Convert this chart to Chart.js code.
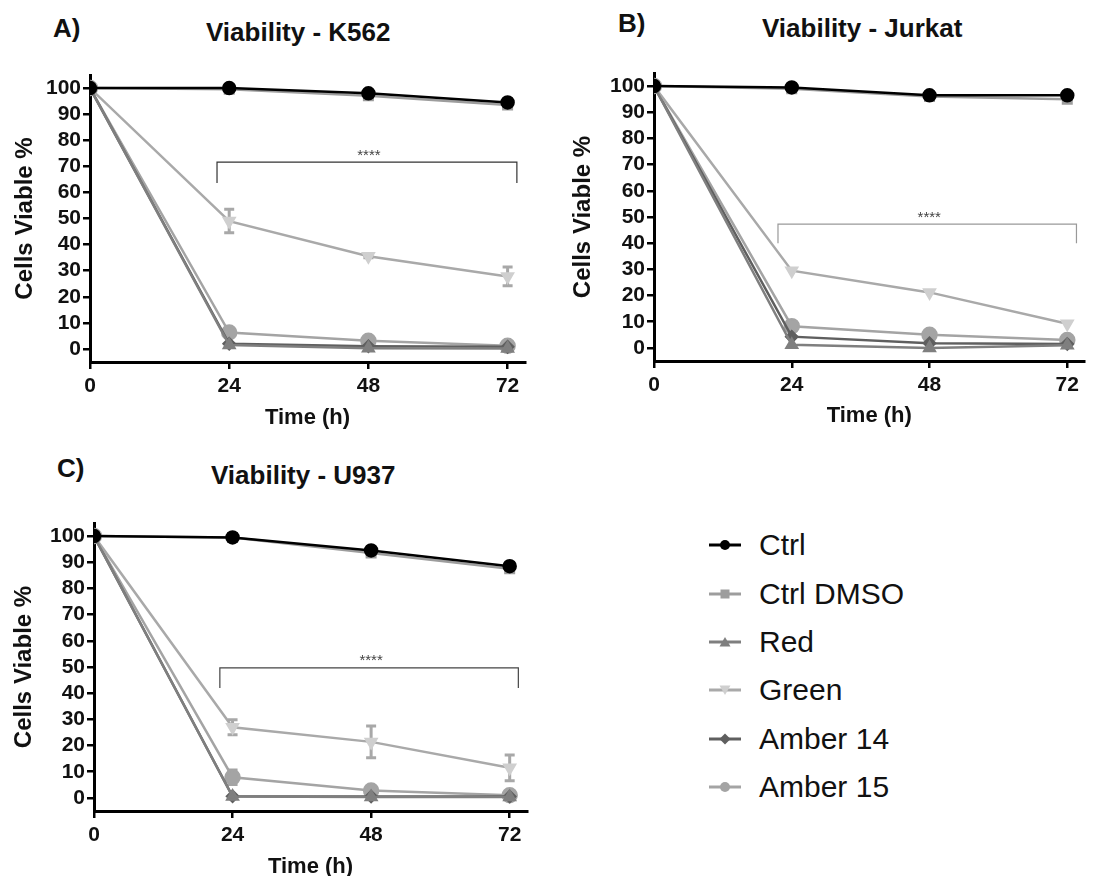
<!DOCTYPE html>
<html>
<head>
<meta charset="utf-8">
<script src="https://cdn.jsdelivr.net/npm/chart.js@4.4.0/dist/chart.umd.min.js"></script>
<style>
html, body { margin: 0; padding: 0; background: #fff; overflow: hidden; }
body { width: 1094px; height: 876px; position: relative; font-family: Arial, "Liberation Sans", sans-serif; }
canvas { position: absolute; }
.lbl { position: absolute; font-weight: bold; font-size: 26px; line-height: 30px; color: #111; white-space: nowrap; }
#legend { position: absolute; left: 709px; top: 521px; }
.row { height: 48.4px; display: flex; align-items: center; font-size: 30px; color: #111; white-space: nowrap; }
.row svg { margin-right: 18px; flex: none; }
</style>
</head>
<body>
<div class="lbl" style="left:53px;top:13px">A)</div>
<div class="lbl" style="left:206px;top:17px">Viability - K562</div>
<div class="lbl" style="left:618px;top:8px">B)</div>
<div class="lbl" style="left:762px;top:13px">Viability - Jurkat</div>
<div class="lbl" style="left:57px;top:453px">C)</div>
<div class="lbl" style="left:211px;top:460px">Viability - U937</div>

<canvas id="cK562" width="540" height="440" style="left:0;top:0"></canvas>
<canvas id="cJurkat" width="540" height="440" style="left:554px;top:0"></canvas>
<canvas id="cU937" width="540" height="446" style="left:0;top:430px"></canvas>
<div id="legend"></div>

<script>
// time points and ticks
const hours = [0, 24, 48, 72];
const xTicks = [0, 24, 48, 72];
const yTicks = [0, 10, 20, 30, 40, 50, 60, 70, 80, 90, 100];
const seriesNames = ['Ctrl', 'Ctrl DMSO', 'Red', 'Green', 'Amber 14', 'Amber 15'];

// K562
const k562Ctrl = [100, 100, 98, 94.5];
const k562Dmso = [100, 99.5, 97, 93.5];
const k562Red = [100, 1.5, 0.3, 0.2];
const k562Green = [100, 49, 35.5, 27.8];
const k562Amber14 = [100, 2, 1, 0.8];
const k562Amber15 = [100, 6.3, 3.1, 1.2];
const k562GreenErr = [0, 4.5, 0.5, 3.6];
const k562Amber15Err = [0, 0, 0, 0];

// Jurkat
const jurkatCtrl = [100, 99.5, 96.5, 96.5];
const jurkatDmso = [100, 99, 96, 95];
const jurkatRed = [100, 1.2, 0, 1];
const jurkatGreen = [100, 29.5, 21.2, 9.2];
const jurkatAmber14 = [100, 4.3, 1.8, 1.5];
const jurkatAmber15 = [100, 8.3, 5, 3];
const jurkatGreenErr = [0, 0, 0, 0];
const jurkatAmber15Err = [0, 0, 0, 0];

// U937
const u937Ctrl = [100, 99.5, 94.5, 88.5];
const u937Dmso = [100, 99.5, 93.5, 87.5];
const u937Red = [100, 0.5, 0.3, 0.3];
const u937Green = [100, 27, 21.4, 11.5];
const u937Amber14 = [100, 0.6, 0.5, 0.5];
const u937Amber15 = [100, 7.9, 2.8, 1];
const u937GreenErr = [0, 2.9, 6.1, 4.9];
const u937Amber15Err = [0, 2.8, 0, 0];

// significance brackets: [from h, to h, level %, drop %]
const k562Sig = [21.9, 73.6, 71.6, 8];
const jurkatSig = [21.6, 73.6, 47.3, 7.3];
const u937Sig = [21.8, 73.5, 49.7, 7.7];

const styles = [
    { line: '#000000', fill: '#000000', shape: 'circle', r: 6 },
    { line: '#9d9d9d', fill: '#9d9d9d', shape: 'rect', r: 6 },
    { line: '#7f7f7f', fill: '#7f7f7f', shape: 'triangle', r: 6 },
    { line: '#a9a9a9', fill: '#cfcfcf', shape: 'triangle', r: 6, rot: 180 },
    { line: '#5f5f5f', fill: '#5f5f5f', shape: 'rectRot', r: 5.5 },
    { line: '#a4a4a4', fill: '#a4a4a4', shape: 'circle', r: 7 }
];

const FONT = 'Arial, "Liberation Sans", sans-serif';

function makePanel(id, series, greenErr, amberErr, sig, lay) {
    const datasets = series.map((vals, i) => ({
        label: seriesNames[i],
        data: hours.map((h, j) => ({ x: h, y: vals[j] })),
        borderColor: styles[i].line,
        backgroundColor: styles[i].fill,
        pointBackgroundColor: styles[i].fill,
        pointBorderColor: styles[i].fill,
        pointStyle: styles[i].shape,
        pointRadius: styles[i].r,
        pointRotation: styles[i].rot || 0,
        borderWidth: 2.5,
        tension: 0
    }));

    const errPlugin = {
        id: 'errBars',
        beforeDatasetsDraw(chart) {
            const { ctx, scales: { x, y } } = chart;
            const sets = [[series[3], greenErr, '#a8a8a8'], [series[5], amberErr, '#a4a4a4']];
            ctx.save();
            ctx.lineWidth = 3;
            sets.forEach(([vals, errs, col]) => {
                errs.forEach((e, j) => {
                    if (!e) return;
                    const px = x.getPixelForValue(hours[j]);
                    const t = y.getPixelForValue(vals[j] + e);
                    const b = y.getPixelForValue(vals[j] - e);
                    ctx.strokeStyle = col;
                    ctx.beginPath();
                    ctx.moveTo(px, t); ctx.lineTo(px, b);
                    ctx.moveTo(px - 5, t); ctx.lineTo(px + 5, t);
                    ctx.moveTo(px - 5, b); ctx.lineTo(px + 5, b);
                    ctx.stroke();
                });
            });
            ctx.restore();
        }
    };

    const sigPlugin = {
        id: 'sigBracket',
        afterDatasetsDraw(chart) {
            const { ctx, scales: { x, y } } = chart;
            const x1 = x.getPixelForValue(sig[0]);
            const x2 = x.getPixelForValue(sig[1]);
            const yl = y.getPixelForValue(sig[2]);
            const yd = y.getPixelForValue(sig[2] - sig[3]);
            ctx.save();
            ctx.strokeStyle = lay.sigColor;
            ctx.lineWidth = 1.2;
            ctx.beginPath();
            ctx.moveTo(x1, yd); ctx.lineTo(x1, yl); ctx.lineTo(x2, yl); ctx.lineTo(x2, yd);
            ctx.stroke();
            ctx.fillStyle = '#444';
            ctx.font = '15px ' + FONT;
            ctx.textAlign = 'center';
            ctx.textBaseline = 'alphabetic';
            ctx.fillText('****', (x1 + x2) / 2 + 2, yl - 2.5);
            ctx.restore();
        }
    };

    new Chart(document.getElementById(id), {
        type: 'line',
        data: { datasets },
        plugins: [errPlugin, sigPlugin],
        options: {
            responsive: false,
            animation: false,
            events: [],
            layout: { padding: lay.padding },
            plugins: { legend: { display: false }, tooltip: { enabled: false } },
            scales: {
                x: {
                    type: 'linear',
                    min: 0, max: 75,
                    afterBuildTicks: s => { s.ticks = xTicks.map(v => ({ value: v })); },
                    afterFit: s => { s.height = lay.xHeight; },
                    border: { color: '#000', width: 3 },
                    grid: { drawOnChartArea: false, drawTicks: true, tickLength: 7, color: '#000', lineWidth: 2.5 },
                    ticks: { color: '#111', padding: 5, autoSkip: false, font: { family: FONT, size: 21, weight: 'bold' }, maxRotation: 0 },
                    title: { display: true, text: 'Time (h)', color: '#111', padding: { top: 4, bottom: lay.xTitlePad }, font: { family: FONT, size: 22, weight: 'bold' } }
                },
                y: {
                    type: 'linear',
                    min: -5, max: 105,
                    afterBuildTicks: s => { s.ticks = yTicks.map(v => ({ value: v })); },
                    afterFit: s => { s.width = lay.yWidth; },
                    border: { color: '#000', width: 3 },
                    grid: { drawOnChartArea: false, drawTicks: true, tickLength: 7, color: '#000', lineWidth: 2.5 },
                    ticks: { color: '#111', padding: 2, autoSkip: false, font: { family: FONT, size: 21, weight: 'bold' } },
                    title: { display: true, text: 'Cells Viable %', color: '#111', padding: { top: 3, bottom: 4 }, font: { family: FONT, size: 24, weight: 'bold' } }
                }
            }
        }
    });
}

makePanel('cK562',
    [k562Ctrl, k562Dmso, k562Red, k562Green, k562Amber14, k562Amber15],
    k562GreenErr, k562Amber15Err, k562Sig,
    { padding: { left: 8, top: 75, right: 15, bottom: 9 }, yWidth: 82, xHeight: 69, xTitlePad: 0, sigColor: '#333' });

makePanel('cJurkat',
    [jurkatCtrl, jurkatDmso, jurkatRed, jurkatGreen, jurkatAmber14, jurkatAmber15],
    jurkatGreenErr, jurkatAmber15Err, jurkatSig,
    { padding: { left: 12, top: 73, right: 5, bottom: 11 }, yWidth: 88, xHeight: 68, xTitlePad: 0, sigColor: '#999' });

makePanel('cU937',
    [u937Ctrl, u937Dmso, u937Red, u937Green, u937Amber14, u937Amber15],
    u937GreenErr, u937Amber15Err, u937Sig,
    { padding: { left: 7, top: 93, right: 13, bottom: 0 }, yWidth: 87, xHeight: 65, xTitlePad: -4, sigColor: '#444' });

// legend, drawn from the same names and styles
function markerSvg(st) {
    const c = st.fill, cx = 16, cy = 10;
    let m = '';
    if (st.shape === 'circle') m = `<circle cx="${cx}" cy="${cy}" r="5" fill="${c}"/>`;
    else if (st.shape === 'rect') m = `<rect x="${cx - 4.5}" y="${cy - 4.5}" width="9" height="9" fill="${c}"/>`;
    else if (st.shape === 'rectRot') m = `<polygon points="${cx},${cy - 5.5} ${cx + 5.5},${cy} ${cx},${cy + 5.5} ${cx - 5.5},${cy}" fill="${c}"/>`;
    else if (st.rot) m = `<polygon points="${cx - 5.5},${cy - 4.5} ${cx + 5.5},${cy - 4.5} ${cx},${cy + 5}" fill="${c}"/>`;
    else m = `<polygon points="${cx - 5.5},${cy + 4.5} ${cx + 5.5},${cy + 4.5} ${cx},${cy - 5}" fill="${c}"/>`;
    return `<svg width="32" height="20"><line x1="0" y1="${cy}" x2="32" y2="${cy}" stroke="${st.line}" stroke-width="3"/>${m}</svg>`;
}
document.getElementById('legend').innerHTML = seriesNames
    .map((n, i) => `<div class="row">${markerSvg(styles[i])}<span>${n}</span></div>`)
    .join('');
</script>
</body>
</html>
